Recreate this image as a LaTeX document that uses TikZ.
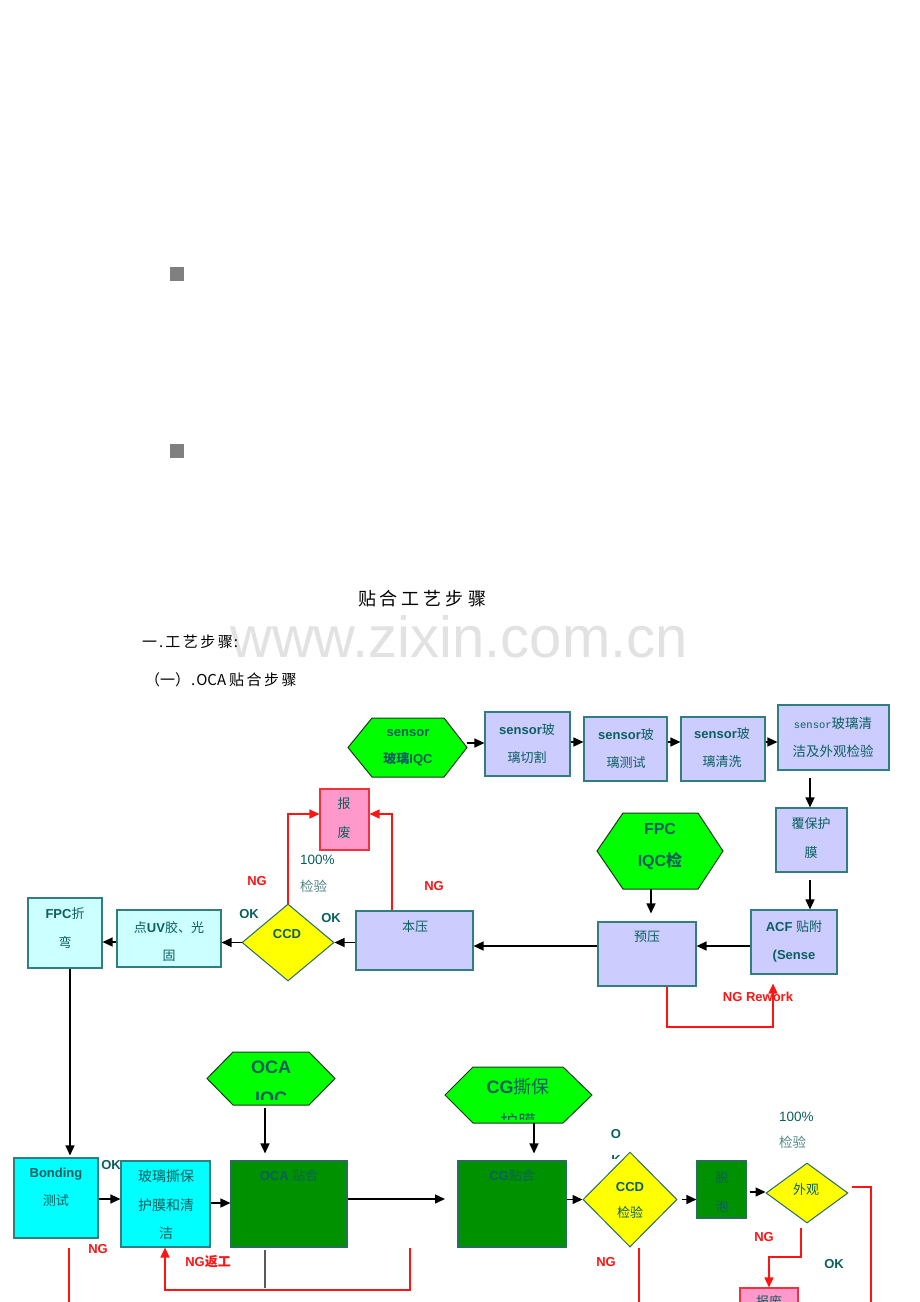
\documentclass[tikz,border=0pt]{standalone}
\usepackage{fontspec}
\setmainfont{Liberation Sans}
\newfontfamily\cjk{Noto Sans CJK SC}
\newfontfamily\mono{Liberation Mono}
\usetikzlibrary{arrows.meta,shapes.geometric,calc}
\definecolor{tealtext}{RGB}{10,95,95}
\definecolor{lighttealtext}{RGB}{80,135,135}
\definecolor{boxedge}{RGB}{50,125,125}
\definecolor{lavfill}{RGB}{204,204,255}
\definecolor{lcyanfill}{RGB}{204,255,255}
\definecolor{cyanfill}{RGB}{0,255,255}
\definecolor{dgfill}{RGB}{0,145,0}
\definecolor{dgedge}{RGB}{40,110,90}
\definecolor{pinkfill}{RGB}{255,153,204}
\definecolor{pinkedge}{RGB}{240,50,60}
\definecolor{hexfill}{RGB}{0,255,0}
\definecolor{hexedge}{RGB}{30,55,30}
\definecolor{diaedge}{RGB}{40,105,105}
\definecolor{yellowfill}{RGB}{255,255,0}
\definecolor{ngred}{RGB}{255,20,20}
\definecolor{sqgray}{RGB}{128,128,128}
\definecolor{wmgray}{RGB}{226,226,226}
\definecolor{grayline}{RGB}{90,90,90}
\newcommand\zhf[1]{{\cjk #1}}
\newcommand\rbox[6]{\node[#6, minimum width={#4pt-#2pt}, minimum height={#5pt-#3pt}] (#1) at ({(#2+#4)/2},{(#3+#5)/2}) {};}
\newcommand\hexa[7]{%
  \node[inner sep=0pt, minimum width={#5pt-#2pt}, minimum height={#7pt-#6pt}] (#1) at ({(#2+#5)/2},{(#6+#7)/2}) {};
  \draw[hexst] (#2,{(#6+#7)/2}) -- (#3,#6) -- (#4,#6) -- (#5,{(#6+#7)/2}) -- (#4,#7) -- (#3,#7) -- cycle;}
\tikzset{
  lav/.style={draw=boxedge, fill=lavfill, line width=1.1pt, inner sep=0pt},
  lcyan/.style={draw=boxedge, fill=lcyanfill, line width=1.1pt, inner sep=0pt},
  cyanb/.style={draw=boxedge, fill=cyanfill, line width=1.1pt, inner sep=0pt},
  dgreen/.style={draw=dgedge, fill=dgfill, line width=1.1pt, inner sep=0pt},
  pinkb/.style={draw=pinkedge, fill=pinkfill, line width=1.1pt, inner sep=0pt},
  dia/.style={diamond, draw=diaedge, fill=yellowfill, line width=1pt, inner sep=0pt},
  hexst/.style={draw=hexedge, fill=hexfill, line width=1pt},
  txt/.style={text=tealtext, align=center, inner sep=0pt, font=\fontsize{13}{28}\selectfont},
  ngl/.style={text=ngred, inner sep=0pt, font=\bfseries\fontsize{13}{15}\selectfont},
  okl/.style={text=tealtext, inner sep=0pt, font=\bfseries\fontsize{13}{15}\selectfont},
  arr/.style={draw=black, line width=1.4pt, -{Triangle[length=10pt,width=9pt]}},
  rarr/.style={draw=ngred, line width=1.4pt, -{Triangle[length=10pt,width=9pt]}},
  rline/.style={draw=ngred, line width=1.4pt},
}
\begin{document}
\begin{tikzpicture}[x=1pt,y=-1pt]
\useasboundingbox (0,0) rectangle (920,1302);
\clip (0,0) rectangle (920,1302);
\fill[white] (0,0) rectangle (920,1302);

% gray squares
\fill[sqgray] (170,267) rectangle (184,281);
\fill[sqgray] (170,444) rectangle (184,458);

% watermark and headings
\node[anchor=base, text=wmgray, inner sep=0pt, font=\fontsize{58}{60}\selectfont] (wmark) at (459,657) {www.zixin.com.cn};
\node[inner sep=0pt, font=\cjk\fontsize{18}{20}\selectfont] (title) at (422,599)
  {贴\hspace{4pt}合\hspace{4pt}工\hspace{4pt}艺\hspace{4pt}步\hspace{4pt}骤};
\node[anchor=west, inner sep=0pt, font=\cjk\fontsize{15}{17}\selectfont] (sec1) at (142,642)
  {一\hspace{2pt}.\hspace{2pt}工\hspace{2.5pt}艺\hspace{2.5pt}步\hspace{2.5pt}骤\hspace{1pt}:};
\node[anchor=west, inner sep=0pt, font=\cjk\fontsize{15}{17}\selectfont] (sec2) at (145,680)
  {（一）\hspace{1pt}.\hspace{1pt}OCA\hspace{3pt}贴\hspace{2.5pt}合\hspace{2.5pt}步\hspace{2.5pt}骤};

% ---------- upper flow ----------
\hexa{hex1}{348}{372}{444}{467}{718}{777}
\node[txt, font=\bfseries\fontsize{13}{27}\selectfont] (hex1t) at (408,748) {sensor\\\zhf{玻璃}IQC};
\rbox{cut}{485}{712}{570}{776}{lav}
\node[txt] (cutt) at (527,744) {\textbf{sensor}\zhf{玻}\\\zhf{璃切割}};
\rbox{test}{584}{717}{667}{781}{lav}
\node[txt] (testt) at (626,749) {\textbf{sensor}\zhf{玻}\\\zhf{璃测试}};
\rbox{wash}{681}{717}{765}{781}{lav}
\node[txt] (washt) at (722,748) {\textbf{sensor}\zhf{玻}\\\zhf{璃清洗}};
\rbox{insp}{778}{705}{889}{770}{lav}
\node[txt, font=\fontsize{13.5}{28}\selectfont] (inspt) at (833,737) {{\mono\fontsize{10.5}{28}\selectfont sensor}\zhf{玻璃清}\\\zhf{洁及外观检验}};
\rbox{cover}{776}{808}{847}{872}{lav}
\node[txt, font=\fontsize{13}{29}\selectfont] (covert) at (811,838) {\zhf{覆保护}\\\zhf{膜}};
\rbox{acf}{751}{910}{837}{974}{lav}
\node[txt] (acft) at (794,941) {\textbf{ACF} \zhf{贴附}\\\textbf{(Sense}};
\hexa{fpchex}{597}{623}{698}{723}{813}{889}
\node[txt, font=\bfseries\fontsize{16}{32}\selectfont] (fpchext) at (660,846) {FPC\\IQC\zhf{检}};
\rbox{yuya}{598}{922}{696}{986}{lav}
\node[txt] (yuyat) at (647,937) {\zhf{预压}};
\rbox{benya}{356}{911}{473}{970}{lav}
\node[txt] (benyat) at (415,927) {\zhf{本压}};
\rbox{scrap1}{320}{789}{369}{850}{pinkb}
\node[txt, font=\fontsize{13}{29}\selectfont] (scrap1t) at (344,818) {\zhf{报}\\\zhf{废}};
\node[anchor=west, align=left, inner sep=0pt, font=\fontsize{13.5}{27}\selectfont] (pct1) at (300,874)
  {\textcolor{tealtext}{100\%}\\\textcolor{lighttealtext}{\zhf{检验}}};
\node[ngl] (ng1) at (257,881) {NG};
\node[ngl] (ng2) at (434,886) {NG};
\node[okl] (ok1) at (249,914) {OK};
\node[okl] (ok2) at (331,918) {OK};
\rbox{ccd1}{242}{904}{334}{981}{dia}
\node[txt, font=\bfseries\fontsize{13}{27}\selectfont] (ccd1t) at (287,934) {CCD};
\rbox{uv}{117}{910}{221}{967}{lcyan}
\node[txt] (uvt) at (169,942) {\zhf{点}\textbf{UV}\zhf{胶、光}\\\zhf{固}};
\rbox{fpcz}{28}{898}{102}{968}{lcyan}
\node[txt, font=\fontsize{13}{29}\selectfont] (fpczt) at (65,928) {\textbf{FPC}\zhf{折}\\\zhf{弯}};
\node[ngl] (ngrw) at (758,997) {NG Rework};

% upper connectors
\draw[arr] (hex1.east |- 0,743) -- (cut.west |- 0,743);
\draw[arr] (cut.east |- 0,742) -- (test.west |- 0,742);
\draw[arr] (test.east |- 0,742) -- (wash.west |- 0,742);
\draw[arr] (wash.east |- 0,742) -- (insp.west |- 0,742);
\draw[arr, shorten <=7pt] (810,0 |- insp.south) -- (810,0 |- cover.north);
\draw[arr, shorten <=7pt] (810,0 |- cover.south) -- (810,0 |- acf.north);
\draw[arr] (acf.west |- 0,946) -- (yuya.east |- 0,946);
\draw[arr, shorten >=8pt] (651,0 |- fpchex.south) -- (651,0 |- yuya.north);
\draw[rarr, shorten >=9pt] (667,0 |- yuya.south) -- (667,1027) -| (773,0 |- acf.south);
\draw[arr] (yuya.west |- 0,946) -- (benya.east |- 0,946);
\draw[rarr] (392,0 |- benya.north) |- (scrap1.east |- 0,814);
\draw[rarr] (ccd1.north) |- (scrap1.west |- 0,814);
\draw[arr] (benya.west |- ccd1.east) -- (ccd1.east);
\draw[arr] (ccd1.west) -- (uv.east |- ccd1.west);
\draw[arr] (uv.west |- 0,942) -- (fpcz.east |- 0,942);

% ---------- lower flow ----------
\node[okl] (ok3) at (111,1165) {OK};
\rbox{bond}{14}{1158}{98}{1238}{cyanb}
\node[txt] (bondt) at (56,1187) {\textbf{Bonding}\\\zhf{测试}};
\rbox{peel}{121}{1161}{210}{1247}{cyanb}
\node[txt, font=\fontsize{14}{28.5}\selectfont] (peelt) at (166,1205) {\zhf{玻璃撕保}\\\zhf{护膜和清}\\\zhf{洁}};
\node[ngl] (ng3) at (98,1249) {NG};
\node[ngl] (ngfg) at (208,1262) {NG\zhf{返工}};

\hexa{ocahex}{207}{233}{309}{335}{1052}{1105}
\begin{scope}
  \clip (200,1040) rectangle (340,1099);
  \node[txt, font=\bfseries\fontsize{18}{31}\selectfont] (ocahext) at (271,1084.5) {OCA\\IQC};
\end{scope}
\rbox{oca}{231}{1161}{347}{1247}{dgreen}
\node[txt] (ocat) at (289,1176) {\textbf{OCA} \zhf{贴合}};

\hexa{cghex}{445}{473}{563}{592}{1067}{1123}
\begin{scope}
  \clip (440,1060) rectangle (600,1119);
  \node[txt, font=\fontsize{18}{35}\selectfont] (cghext) at (518,1104.5) {\textbf{CG}\zhf{撕保}\\\zhf{护膜}};
\end{scope}
\rbox{cg}{458}{1161}{566}{1247}{dgreen}
\node[txt] (cgt) at (512,1176) {\textbf{CG}\zhf{贴合}};
\coordinate (ocaend) at (445,1199);

\begin{scope}
  \clip (600,1120) rectangle (640,1158);
  \node[okl, align=center, font=\bfseries\fontsize{13}{26}\selectfont] (ok4) at (616,1147) {O\\K};
\end{scope}
\rbox{ccd2}{583}{1152}{677}{1247}{dia}
\node[txt, font=\fontsize{13}{26}\selectfont] (ccd2t) at (630,1200) {\textbf{CCD}\\\zhf{检验}};
\rbox{tuo}{697}{1161}{746}{1218}{dgreen}
\node[txt, font=\fontsize{13}{29}\selectfont] (tuot) at (722,1192) {\zhf{脱}\\\zhf{泡}};
\rbox{wg}{766}{1163}{848}{1223}{dia}
\node[txt] (wgt) at (806,1190) {\zhf{外观}};
\node[anchor=west, align=left, inner sep=0pt, font=\fontsize{13.5}{26}\selectfont] (pct2) at (779,1130)
  {\textcolor{tealtext}{100\%}\\\textcolor{lighttealtext}{\zhf{检验}}};
\node[ngl] (ng4) at (764,1237) {NG};
\node[ngl] (ng5) at (606,1262) {NG};
\node[okl] (ok5) at (834,1264) {OK};
\rbox{scrap2}{740}{1288}{798}{1345}{pinkb}
\node[txt] (scrap2t) at (769,1302) {\zhf{报废}};
\coordinate (endA) at (871,1320);
\coordinate (endB) at (639,1320);
\coordinate (endC) at (69,1320);

% lower connectors
\draw[arr, shorten >=2pt] (70,0 |- fpcz.south) -- (70,0 |- bond.north);
\draw[arr] (bond.east |- 0,1199) -- (peel.west |- 0,1199);
\draw[arr] (peel.east |- 0,1203) -- (oca.west |- 0,1203);
\draw[arr, shorten <=3pt, shorten >=7pt] (265,0 |- ocahex.south) -- (265,0 |- oca.north);
\draw[arr] (oca.east |- ocaend) -- (ocaend);
\draw[arr, shorten >=7pt] (534,0 |- cghex.south) -- (534,0 |- cg.north);
\draw[arr] (567,0 |- ccd2.west) -- (ccd2.west);
\draw[arr, shorten <=4pt] (ccd2.east) -- (tuo.west |- ccd2.east);
\draw[arr, shorten <=3pt] (tuo.east |- 0,1192) -- (wg.west |- 0,1192);
\draw[rarr] (801,1228) -- (801,1257) -| (scrap2.north);
\draw[rline] (852,1187) -| (endA);
\draw[rline] (639,0 |- ccd2.south) -- (endB);
\draw[rline] (69,1248) -- (endC);
\draw[draw=grayline, line width=1.3pt] (265,1250) -- (265,1288);
\draw[rarr] (410,0 |- oca.south) -- (410,1290) -| (165,0 |- peel.south);
\end{tikzpicture}
\end{document}
